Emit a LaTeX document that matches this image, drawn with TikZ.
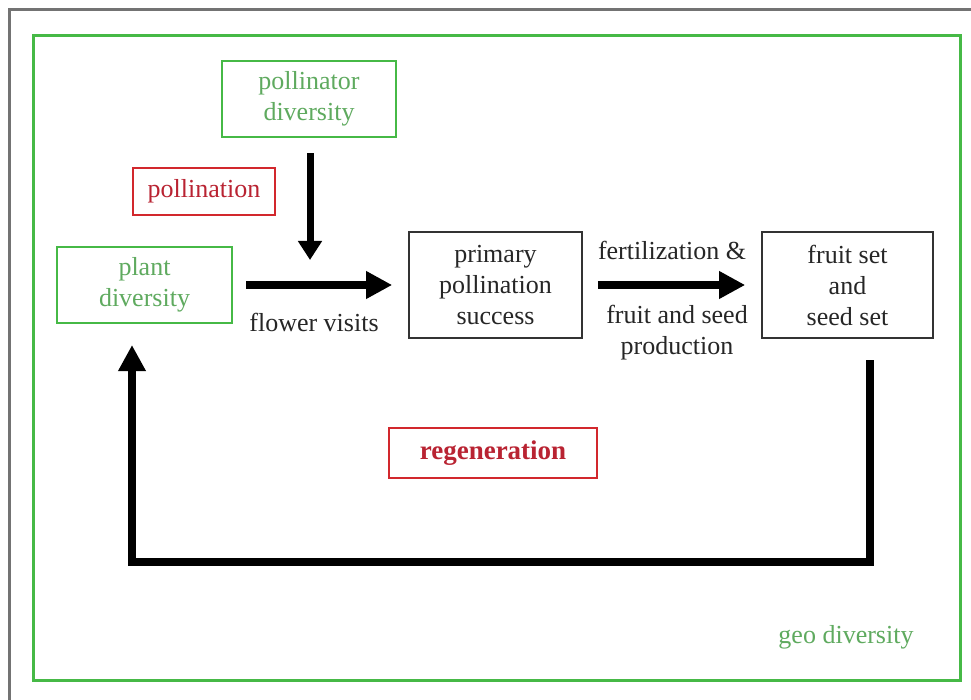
\documentclass[tikz,border=0pt]{standalone}
\usepackage{fontspec}
\setmainfont{Liberation Serif}
\usetikzlibrary{arrows.meta}
\definecolor{gframe}{RGB}{70,185,70}
\definecolor{gtext}{RGB}{95,170,95}
\definecolor{rframe}{RGB}{210,40,45}
\definecolor{rtext}{RGB}{185,35,50}
\definecolor{grayframe}{RGB}{115,115,115}
\tikzset{
  greenbox/.style={draw=gframe, line width=2.5pt, text=gtext, align=center, inner sep=0pt},
  redbox/.style={draw=rframe, line width=2.5pt, text=rtext, align=center, inner sep=0pt},
  blackbox/.style={draw=black!80, line width=1.6pt, text=black!85, align=center, inner sep=0pt},
  lbl/.style={text=black!85, align=center, inner sep=0pt},
  bigarrow/.style={line width=8pt, -{Triangle[width=26pt,length=26pt]}},
  smallarrow/.style={line width=7pt, -{Triangle[width=23pt,length=19pt]}}
}
\begin{document}
\begin{tikzpicture}[x=1pt,y=-1pt,font=\fontsize{26}{31}\selectfont]
\useasboundingbox (0,0) rectangle (971,700);
\fill[white] (0,0) rectangle (971,700);
% outer gray frame (top and left visible)
\draw[grayframe, line width=3pt] (9,700) -- (9,10) -- (971,10);
% green frame
\draw[gframe, line width=3pt] (33,36) rectangle (960,680);
% boxes
\node[greenbox, minimum width=174pt, minimum height=76pt] (poll) at (309,99) {pollinator\\diversity};
\node[redbox, minimum width=142pt, minimum height=47pt] (pollination) at (204,191.5) {pollination};
\node[greenbox, minimum width=175pt, minimum height=76pt] (plant) at (144.5,285) {plant\\diversity};
\node[blackbox, minimum width=173pt, minimum height=106pt] (prim) at (495.5,285) {primary\\pollination\\success};
\node[blackbox, minimum width=171pt, minimum height=106pt] (fruit) at (847.5,285) {fruit set\\and\\seed set};
\node[redbox, minimum width=208pt, minimum height=50pt, font=\fontsize{27}{31}\selectfont\bfseries] (regen) at (493,453) {regeneration};
% labels
\node[lbl] (fv) at (314,322) {flower visits};
\node[lbl] (fert) at (672,250) {fertilization \&};
\node[lbl] (fsp) at (677,333) {fruit and seed\\production};
\node[text=gtext, inner sep=0pt] (geo) at (846,637) {geo diversity};
% arrows
\coordinate (meet) at (310,260);
\draw[smallarrow] ([yshift=-15pt]poll.south -| meet) -- (meet);
\draw[bigarrow, shorten <=13pt, shorten >=16pt] (plant.east) -- (prim.west);
\draw[bigarrow, shorten <=15pt, shorten >=16pt] (prim.east) -- (fruit.west);
\coordinate (c1) at (870,562);
\coordinate (c2) at (132,562);
\draw[bigarrow, line join=miter] (870,360) -- (c1) -- (c2) -- (132,345);
\end{tikzpicture}
\end{document}
